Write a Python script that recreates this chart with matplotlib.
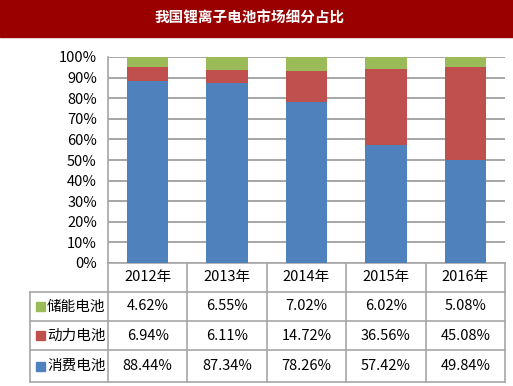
import matplotlib.pyplot as plt
import numpy as np

plt.rcParams['font.family'] = ['Noto Sans CJK SC', 'DejaVu Sans']

years = ['2012年', '2013年', '2014年', '2015年', '2016年']
series = ['储能电池', '动力电池', '消费电池']
storage = [4.62, 6.55, 7.02, 6.02, 5.08]
power = [6.94, 6.11, 14.72, 36.56, 45.08]
consumer = [88.44, 87.34, 78.26, 57.42, 49.84]
colors = ['#9BBB59', '#C0504D', '#4F81BD']

W, H = 513, 386
fig = plt.figure(figsize=(W / 100, H / 100), dpi=100)

# title bar
fig.patches.append(plt.Rectangle((0, 1 - 37 / H), 1, 37 / H, transform=fig.transFigure,
                                 color='#9A0000', zorder=0))
fig.text(250 / W, 1 - 18 / H, '我国锂离子电池市场细分占比', color='white', fontsize=10.5,
         fontweight='bold', ha='center', va='center')

left, right, top, bottom = 108, 505, 57, 263
ax = fig.add_axes([left / W, 1 - bottom / H, (right - left) / W, (bottom - top) / H])
x = np.arange(len(years))
frac = lambda v: np.array(v) / 100
ax.bar(x, frac(consumer), 0.52, color=colors[2], zorder=3)
ax.bar(x, frac(power), 0.52, bottom=frac(consumer), color=colors[1], zorder=3)
ax.bar(x, frac(storage), 0.52, bottom=frac(consumer) + frac(power), color=colors[0], zorder=3)
ax.set_xlim(-0.5, len(years) - 0.5)
ax.set_ylim(0, 1)
ax.set_yticks(np.arange(0, 1.01, 0.1))
ax.set_yticklabels([f'{int(round(t * 100))}%' for t in np.arange(0, 1.01, 0.1)], fontsize=10.5)
ax.yaxis.grid(True, color='#A6A6A6', linewidth=1.4, zorder=0)
ax.set_xticks([])
ax.tick_params(axis='y', length=0, pad=8)
for s in ['top', 'right', 'bottom']:
    ax.spines[s].set_visible(False)
ax.spines['left'].set_color('#A6A6A6')
ax.spines['left'].set_linewidth(1.2)

# data table drawn on an overlay in pixel coords
tab = fig.add_axes([0, 0, 1, 1], zorder=-1)
tab.set_xlim(0, W)
tab.set_ylim(H, 0)
tab.axis('off')
edges = np.linspace(left, right, len(years) + 1)
rows_y = [263, 292, 321, 350, 382]
lc = '#A6A6A6'
tab.plot([left, right], [rows_y[0]] * 2, color=lc, lw=1.2)
for yy in rows_y[1:]:
    tab.plot([30, right], [yy, yy], color=lc, lw=1.2)
for xx in edges:
    tab.plot([xx, xx], [rows_y[0], rows_y[-1]], color=lc, lw=1.2)
tab.plot([30, 30], [rows_y[1], rows_y[-1]], color=lc, lw=1.2)
centers = (edges[:-1] + edges[1:]) / 2
for cx, yr in zip(centers, years):
    tab.text(cx, (rows_y[0] + rows_y[1]) / 2, yr, ha='center', va='center', fontsize=10.5)
for i, (name, vals, c) in enumerate(zip(series, [storage, power, consumer], colors)):
    cy = (rows_y[i + 1] + rows_y[i + 2]) / 2
    tab.add_patch(plt.Rectangle((36, cy - 4.5), 9, 9, color=c))
    tab.text(47, cy, name, ha='left', va='center', fontsize=10.5)
    for cx, v in zip(centers, vals):
        tab.text(cx, cy, f'{v:.2f}%', ha='center', va='center', fontsize=10.5)

fig.savefig('out.png', dpi=100)
